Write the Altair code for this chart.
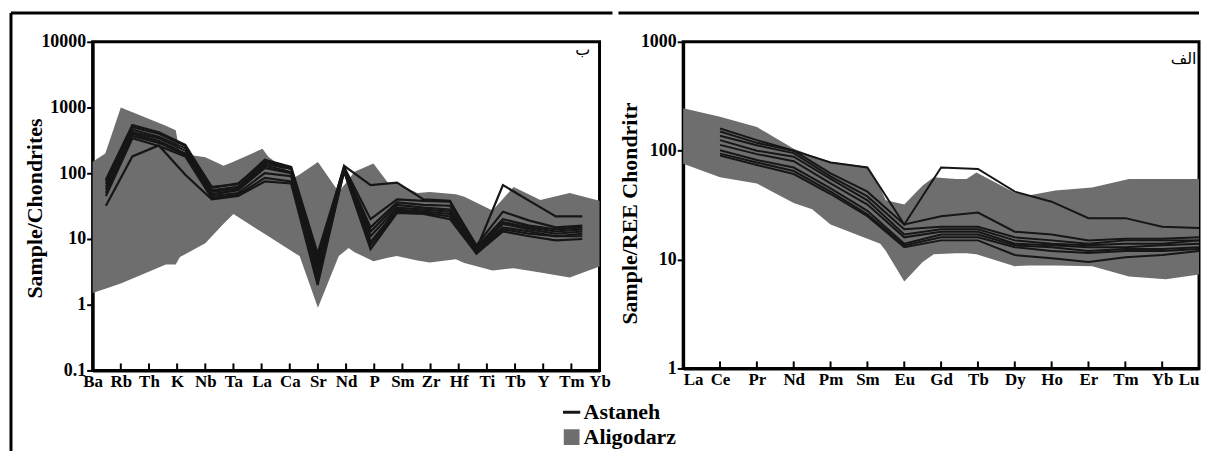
import json
import altair as alt
import pandas as pd

# ---------------- data: left panel (spider diagram) ----------------
LEFT_ELEMENTS = ["Ba", "Rb", "Th", "K", "Nb", "Ta", "La", "Ca", "Sr", "Nd",
                 "P", "Sm", "Zr", "Hf", "Ti", "Tb", "Y", "Tm", "Yb"]

left_s1 = [80, 540, 420, 270, 60, 70, 150, 120, 5, 130, 66, 72, 40, 38, 7, 66, 38, 22, 22]
left_s2 = [75, 500, 400, 260, 62, 68, 160, 125, 6, 125, 20, 40, 38, 37, 8, 26, 19, 15, 16]
left_s3 = [68, 460, 360, 240, 55, 62, 140, 115, 4.5, 120, 15, 36, 33, 32, 7.5, 20, 16, 14, 15]
left_s4 = [62, 420, 340, 220, 52, 58, 130, 105, 4, 118, 13, 33, 30, 28, 7, 18, 15, 13, 14]
left_s5 = [56, 400, 310, 200, 48, 55, 120, 100, 3.5, 115, 11, 30, 28, 26, 6.5, 17, 14, 12, 13]
left_s6 = [50, 370, 290, 190, 45, 50, 100, 90, 3, 110, 9, 28, 26, 24, 6.5, 15, 13, 11, 12]
left_s7 = [45, 340, 260, 180, 42, 47, 85, 75, 2.5, 105, 7, 25, 24, 20, 6, 13, 11, 9.5, 10]
left_s8 = [32, 180, 265, 95, 40, 45, 75, 70, 2, 110, 8, 26, 25, 22, 6, 14, 12, 11, 11]
LEFT_SAMPLES = [left_s1, left_s2, left_s3, left_s4, left_s5, left_s6, left_s7, left_s8]

left_band_x = [0, 0.45, 1.0, 2.6, 2.95, 3.1, 4.0, 4.65, 5.0, 6.03, 6.24, 7.2, 7.35, 8.0,
               8.74, 9.09, 9.3, 9.97, 10.48, 10.8, 11.53, 11.97, 12.9, 13.2, 14.2, 14.95,
               15.9, 16.94, 18.0]
left_band_hi = [150, 200, 1000, 530, 450, 200, 175, 130, 150, 235, 178, 88, 96, 148,
                52, 80, 105, 141, 72, 70, 50, 52, 48, 44, 27, 62, 39, 50, 38]
left_band_lo = [1.5, 1.75, 2.1, 4.1, 4.1, 5.3, 8.6, 17, 24, 12.5, 11, 6.0, 5.5, 0.9,
                5.5, 7.3, 6.3, 4.6, 5.2, 5.5, 4.7, 4.4, 4.9, 4.3, 3.3, 3.6, 3.1, 2.6, 3.8]

# ---------------- data: right panel (REE) ----------------
REE_ELEMENTS = ["La", "Ce", "Pr", "Nd", "Pm", "Sm", "Eu", "Gd", "Tb", "Dy",
                "Ho", "Er", "Tm", "Yb", "Lu"]
# samples start at Ce
ree_s1 = [150, 118, 100, 78, 70, 21, 70, 68, 42, 34, 24, 24, 20, 19.5]
ree_s2 = [160, 125, 100, 62, 42, 21, 25, 27, 18, 17, 15, 15.5, 15.5, 16]
ree_s3 = [137, 112, 95, 58, 38, 19, 20, 20, 16, 15, 14, 15, 15, 15]
ree_s4 = [125, 100, 88, 55, 35, 17, 19, 19, 15, 14, 13.5, 14, 14, 15]
ree_s5 = [113, 93, 80, 50, 32, 16, 18, 18, 14, 13.5, 13, 13, 13.5, 14]
ree_s6 = [101, 82, 70, 45, 28, 14, 17, 17, 13.5, 13, 12, 12.5, 12.5, 13]
ree_s7 = [94, 78, 65, 42, 26, 13.5, 16, 16, 13, 12, 11.5, 12, 12, 12.5]
ree_s8 = [90, 74, 61, 40, 25, 13, 15, 15, 11, 10.3, 9.5, 10.5, 11, 12]
REE_SAMPLES = [ree_s1, ree_s2, ree_s3, ree_s4, ree_s5, ree_s6, ree_s7, ree_s8]

right_band_x = [0, 1, 2, 3, 3.5, 4, 5, 5.35, 5.5, 6.0, 6.5, 6.8, 7.4, 7.69, 7.96,
                9.0, 9.4, 10.1, 11.1, 12.1, 13.1, 14]
right_band_hi = [245, 205, 165, 104, 90, 79, 71, 45, 35, 32, 48, 57, 55, 55, 63,
                 41, 39, 43, 46, 55, 55, 55]
right_band_lo = [76, 57, 50, 33, 29, 21, 15.5, 14, 12, 6.3, 9.5, 11.2, 11.4, 11.4, 11.2,
                 8.7, 8.8, 8.8, 8.7, 7.0, 6.6, 7.3]

SERIES = ["Astaneh", "Aligodarz"]
BLACK = "#161616"
GRAY = "#6e6e6e"
SERIF = "Liberation Serif"

# ---------------- tables ----------------
left_lines_df = pd.DataFrame([
    {"sample": k, "i": j, "el": LEFT_ELEMENTS[j], "v": v, "src": SERIES[0]}
    for k, s in enumerate(LEFT_SAMPLES) for j, v in enumerate(s)])
left_band_df = pd.DataFrame({"x": left_band_x, "hi": left_band_hi, "lo": left_band_lo,
                             "src": SERIES[1]})
left_ticks_df = pd.DataFrame({"x": list(range(1, len(LEFT_ELEMENTS) - 1))})
left_ticks_df["y"] = 0.1
left_ticks_df["y2"] = 0.1 * 10 ** (7 / 66)

right_lines_df = pd.DataFrame([
    {"sample": k, "i": j + 1, "el": REE_ELEMENTS[j + 1], "v": v, "src": SERIES[0]}
    for k, s in enumerate(REE_SAMPLES) for j, v in enumerate(s)])
right_band_df = pd.DataFrame({"x": right_band_x, "hi": right_band_hi, "lo": right_band_lo,
                              "src": SERIES[1]})
right_ticks_df = pd.DataFrame({"x": list(range(1, len(REE_ELEMENTS) - 1))})
right_ticks_df["y"] = 1
right_ticks_df["y2"] = 10 ** (7 / 109)

one = pd.DataFrame({"k": [0]})

# ---------------- shared encodings ----------------
legend_common = dict(title=None, orient="none", legendX=470, labelFont=SERIF,
                     labelFontWeight="bold", labelFontSize=22, labelColor="black",
                     labelOffset=1, padding=0)
fill_enc = alt.Fill("src:N", scale=alt.Scale(domain=[SERIES[1]], range=[GRAY]),
                    legend=alt.Legend(legendY=386, symbolType="square", symbolSize=250,
                                      symbolStrokeWidth=0, **legend_common))
stroke_enc = alt.Stroke("src:N", scale=alt.Scale(domain=[SERIES[0]], range=[BLACK]),
                        legend=alt.Legend(legendY=361, symbolType="stroke", symbolSize=300,
                                          symbolStrokeWidth=3, **legend_common))


def x_axis(names, flush):
    return alt.Axis(values=list(range(len(names))), labelExpr=f"{json.dumps(names)}[datum.value]",
                    ticks=False, grid=False, labelOverlap=False, labelFlush=flush,
                    labelPadding=3, title=None,
                    labelFont=SERIF, labelFontWeight="bold", labelFontSize=17,
                    labelColor="black", domainColor="black", domainWidth=3)


def y_axis(vals, title, tx, ty):
    return alt.Axis(values=vals, format="~g", grid=False, tickSize=6, tickWidth=2,
                    tickColor="black", labelPadding=1, labelOverlap=False, labelFont=SERIF,
                    labelFontWeight="bold", labelFontSize=18, labelColor="black",
                    domainColor="black", domainWidth=3, title=title, titleFont=SERIF,
                    titleFontWeight="bold", titleFontSize=22, titleColor="black",
                    titleX=tx, titleY=ty)


# ---------------- left panel ----------------
lx = alt.Scale(domain=[0, len(LEFT_ELEMENTS) - 1], nice=False, zero=False)
ly = alt.Scale(type="log", domain=[0.1, 10000], nice=False)
lxa = x_axis(LEFT_ELEMENTS, False)
lya = y_axis([0.1, 1, 10, 100, 1000, 10000], "Sample/Chondrites", -46, 167)

left_band = alt.Chart(left_band_df).mark_area(opacity=1).encode(
    x=alt.X("x:Q", scale=lx, axis=lxa),
    y=alt.Y("hi:Q", scale=ly, axis=lya),
    y2="lo:Q",
    fill=fill_enc,
)
left_ticks = alt.Chart(left_ticks_df).mark_rule(color="black", strokeWidth=2).encode(
    x=alt.X("x:Q", scale=lx, axis=lxa), y=alt.Y("y:Q", scale=ly, axis=lya), y2="y2:Q")
left_tag = alt.Chart(one).mark_text(text="ب", font="DejaVu Sans", fontSize=16,
                                     color="black").encode(
    x=alt.X(datum=17.4, scale=lx, axis=lxa), y=alt.Y(datum=7500, scale=ly, axis=lya))
left_frame_top = alt.Chart(one).mark_rule(color="black", strokeWidth=3).encode(
    x=alt.value(-82), x2=alt.value(522), y=alt.value(-29))
left_frame_side = alt.Chart(one).mark_rule(color="black", strokeWidth=3).encode(
    x=alt.value(-82), y=alt.value(-29), y2=alt.value(412))

left_lines = alt.Chart(left_lines_df).mark_line(strokeWidth=2.2, strokeJoin="miter").encode(
    x=alt.X("i:Q", scale=alt.Scale(domain=[-0.5, 18.65], nice=False, zero=False), axis=None),
    y=alt.Y("v:Q", scale=ly, axis=lya),
    detail="sample:N",
    stroke=stroke_enc,
)

left = alt.layer(
    alt.layer(left_band, left_ticks, left_tag, left_frame_top, left_frame_side),
    left_lines,
).resolve_scale(x="independent").properties(width=509, height=330)

# ---------------- right panel ----------------
rx = alt.Scale(domain=[0, len(REE_ELEMENTS) - 1], nice=False, zero=False)
ry = alt.Scale(type="log", domain=[1, 1000], nice=False)
rxa = x_axis(REE_ELEMENTS, True)
rya = y_axis([1, 10, 100, 1000], "Sample/REE Chondritr", -42, 172)

right_band = alt.Chart(right_band_df).mark_area(opacity=1).encode(
    x=alt.X("x:Q", scale=rx, axis=rxa),
    y=alt.Y("hi:Q", scale=ry, axis=rya),
    y2="lo:Q",
    fill=fill_enc,
)
right_ticks = alt.Chart(right_ticks_df).mark_rule(color="black", strokeWidth=2).encode(
    x=alt.X("x:Q", scale=rx, axis=rxa), y=alt.Y("y:Q", scale=ry, axis=rya), y2="y2:Q")
right_tag = alt.Chart(one).mark_text(text="الف", font="DejaVu Sans", fontSize=16,
                                      color="black", align="right").encode(
    x=alt.X(datum=13.93, scale=rx, axis=rxa), y=alt.Y(datum=700, scale=ry, axis=rya))
right_frame_top = alt.Chart(one).mark_rule(color="black", strokeWidth=3).encode(
    x=alt.value(-65), x2=alt.value(518), y=alt.value(-29))
right_lines = alt.Chart(right_lines_df).mark_line(strokeWidth=2, strokeJoin="miter").encode(
    x=alt.X("i:Q", scale=rx, axis=rxa),
    y=alt.Y("v:Q", scale=ry, axis=rya),
    detail="sample:N",
    stroke=stroke_enc,
)

right = alt.layer(right_band, right_ticks, right_tag, right_frame_top, right_lines).properties(
    width=518, height=328)

chart = alt.hconcat(left, right, spacing=0).properties(
    padding={"left": 0, "top": 1, "right": 0, "bottom": 0},
    background="white",
).configure_view(stroke="black", strokeWidth=3).configure_axis(labelOverlap=False)

chart.save("out.html", embed_options={"renderer": "svg", "actions": False})
